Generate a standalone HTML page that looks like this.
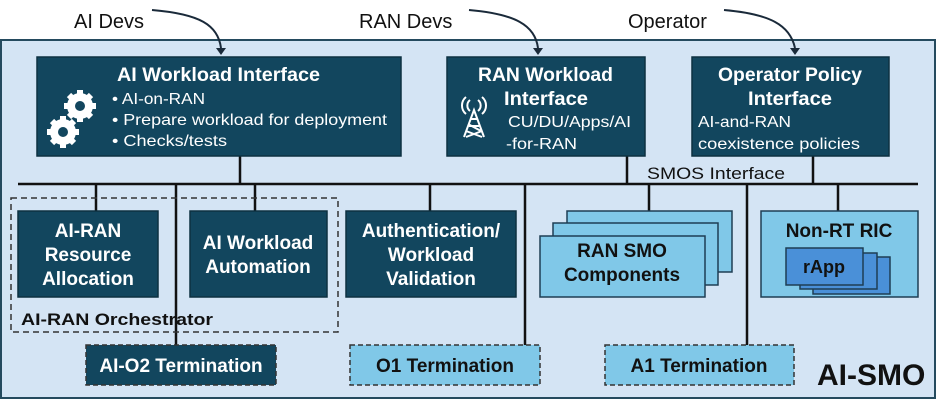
<!DOCTYPE html>
<html><head><style>
body{margin:0;width:947px;height:415px;background:#fff;font-family:"Liberation Sans",sans-serif;overflow:hidden}
svg text{font-family:"Liberation Sans",sans-serif}
</style></head><body>
<svg width="947" height="415" viewBox="0 0 947 415" xmlns="http://www.w3.org/2000/svg">
<rect x="1" y="40" width="934" height="358" fill="#d4e4f4" stroke="#244a5e" stroke-width="2"/>
<text x="74" y="28" font-size="20" fill="#111">AI Devs</text>
<text x="359" y="28" font-size="20" fill="#111">RAN Devs</text>
<text x="628" y="28" font-size="20" fill="#111">Operator</text>
<path d="M152,10 C200,14 218,25 221,48" fill="none" stroke="#1a2a3a" stroke-width="2"/>
<path d="M216,48 L226,48 L221,55 Z" fill="#1a2a3a"/>
<path d="M469,10 C515,14 535,25 538,48" fill="none" stroke="#1a2a3a" stroke-width="2"/>
<path d="M533,48 L543,48 L538,55 Z" fill="#1a2a3a"/>
<path d="M724,10 C770,14 790,25 795,48" fill="none" stroke="#1a2a3a" stroke-width="2"/>
<path d="M790,48 L800,48 L795,55 Z" fill="#1a2a3a"/>
<g stroke="#111" stroke-width="2.5">
<line x1="18" y1="184" x2="918" y2="184"/>
<line x1="240" y1="156" x2="240" y2="184"/>
<line x1="627" y1="156" x2="627" y2="184"/>
<line x1="813" y1="156" x2="813" y2="184"/>
<line x1="96" y1="184" x2="96" y2="211"/>
<line x1="176" y1="184" x2="176" y2="345"/>
<line x1="255" y1="184" x2="255" y2="211"/>
<line x1="430" y1="184" x2="430" y2="211"/>
<line x1="525" y1="184" x2="525" y2="345"/>
<line x1="649" y1="184" x2="649" y2="211"/>
<line x1="747" y1="184" x2="747" y2="345"/>
<line x1="838" y1="184" x2="838" y2="211"/>
</g>
<text x="647" y="179" font-size="17" fill="#111" textLength="138" lengthAdjust="spacingAndGlyphs">SMOS Interface</text>
<g fill="#12465e" stroke="#0c3040" stroke-width="1.5">
<rect x="37" y="57" width="364" height="99"/>
<rect x="447" y="57" width="198" height="99"/>
<rect x="692" y="57" width="197" height="99"/>
</g>
<g fill="#fff">
<text x="117" y="81" font-size="19" font-weight="bold" textLength="203" lengthAdjust="spacingAndGlyphs">AI Workload Interface</text>
<text x="112" y="104" font-size="16" textLength="93" lengthAdjust="spacingAndGlyphs">• AI-on-RAN</text>
<text x="112" y="125" font-size="16" textLength="275" lengthAdjust="spacingAndGlyphs">• Prepare workload for deployment</text>
<text x="112" y="146" font-size="16" textLength="115" lengthAdjust="spacingAndGlyphs">• Checks/tests</text>
<text x="478" y="81" font-size="19" font-weight="bold" textLength="135" lengthAdjust="spacingAndGlyphs">RAN Workload</text>
<text x="504" y="105" font-size="19" font-weight="bold" textLength="84" lengthAdjust="spacingAndGlyphs">Interface</text>
<text x="508" y="127" font-size="16" textLength="123" lengthAdjust="spacingAndGlyphs">CU/DU/Apps/AI</text>
<text x="506" y="149" font-size="16" textLength="71" lengthAdjust="spacingAndGlyphs">-for-RAN</text>
<text x="718" y="81" font-size="19" font-weight="bold" textLength="144" lengthAdjust="spacingAndGlyphs">Operator Policy</text>
<text x="748" y="105" font-size="19" font-weight="bold" textLength="84" lengthAdjust="spacingAndGlyphs">Interface</text>
<text x="698" y="127" font-size="16" textLength="93" lengthAdjust="spacingAndGlyphs">AI-and-RAN</text>
<text x="698" y="149" font-size="16" textLength="162" lengthAdjust="spacingAndGlyphs">coexistence policies</text>
</g>
<g fill="#fff">
<circle cx="80" cy="106" r="13"/><g stroke="#fff" stroke-width="6"><line x1="80" y1="90" x2="80" y2="122"/><line x1="64" y1="106" x2="96" y2="106"/><line x1="69" y1="95" x2="91" y2="117"/><line x1="91" y1="95" x2="69" y2="117"/></g>
<circle cx="63" cy="132" r="13"/><g stroke="#fff" stroke-width="6"><line x1="63" y1="116" x2="63" y2="148"/><line x1="47" y1="132" x2="79" y2="132"/><line x1="52" y1="121" x2="74" y2="143"/><line x1="74" y1="121" x2="52" y2="143"/></g>
</g>
<circle cx="80" cy="106" r="5" fill="#12465e"/><circle cx="63" cy="132" r="5" fill="#12465e"/>
<g stroke="#fff" stroke-width="2" fill="none">
<path d="M464,137 L474,110 L484,137 M469,126 L479,126 M471,119 L477,119 M466,131 L482,137 M482,131 L466,137 M468,124 L481,131"/>
<path d="M470,100 a7,7 0 0 0 0,11 M466,97 a11,11 0 0 0 0,17 M478,100 a7,7 0 0 1 0,11 M482,97 a11,11 0 0 1 0,17"/>
</g>
<rect x="11" y="198" width="327" height="134" fill="none" stroke="#333" stroke-width="1.5" stroke-dasharray="6,4"/>
<text x="21" y="325" font-size="17" font-weight="bold" fill="#111" textLength="192" lengthAdjust="spacingAndGlyphs">AI-RAN Orchestrator</text>
<g fill="#12465e" stroke="#0c3040" stroke-width="1.5">
<rect x="18" y="211" width="140" height="86"/>
<rect x="190" y="211" width="137" height="86"/>
<rect x="346" y="211" width="170" height="86"/>
</g>
<g fill="#fff" font-size="19" font-weight="bold" text-anchor="middle">
<text x="88" y="237">AI-RAN</text><text x="88" y="261">Resource</text><text x="88" y="285">Allocation</text>
<text x="258" y="249">AI Workload</text><text x="258" y="273">Automation</text>
<text x="431" y="237">Authentication/</text><text x="431" y="261">Workload</text><text x="431" y="285">Validation</text>
</g>
<g fill="#80c8e8" stroke="#1e3e54" stroke-width="1.5">
<rect x="567" y="211" width="165" height="61"/>
<rect x="553" y="223" width="165" height="62"/>
<rect x="540" y="236" width="165" height="61"/>
</g>
<text x="622" y="257" font-size="19" font-weight="bold" text-anchor="middle" fill="#111">RAN SMO</text>
<text x="622" y="281" font-size="19" font-weight="bold" text-anchor="middle" fill="#111">Components</text>
<rect x="761" y="211" width="157" height="86" fill="#80c8e8" stroke="#1e3e54" stroke-width="1.5"/>
<text x="839" y="237" font-size="19" font-weight="bold" text-anchor="middle" fill="#111">Non-RT RIC</text>
<g fill="#4a90d8" stroke="#1e3e54" stroke-width="1.5">
<rect x="813" y="257" width="77" height="37"/>
<rect x="800" y="253" width="77" height="36"/>
<rect x="786" y="248" width="77" height="37"/>
</g>
<text x="824" y="273" font-size="18" font-weight="bold" text-anchor="middle" fill="#111">rApp</text>
<rect x="86" y="345" width="190" height="40" fill="#12465e" stroke="#333" stroke-width="1.5" stroke-dasharray="5,3"/>
<text x="181" y="372" font-size="19" font-weight="bold" text-anchor="middle" fill="#fff">AI-O2 Termination</text>
<rect x="350" y="345" width="190" height="40" fill="#80c8e8" stroke="#333" stroke-width="1.5" stroke-dasharray="5,3"/>
<text x="445" y="372" font-size="19" font-weight="bold" text-anchor="middle" fill="#111">O1 Termination</text>
<rect x="605" y="345" width="189" height="40" fill="#80c8e8" stroke="#333" stroke-width="1.5" stroke-dasharray="5,3"/>
<text x="699" y="372" font-size="19" font-weight="bold" text-anchor="middle" fill="#111">A1 Termination</text>
<text x="817" y="385" font-size="30" font-weight="bold" fill="#111">AI-SMO</text>
</svg>
</body></html>
